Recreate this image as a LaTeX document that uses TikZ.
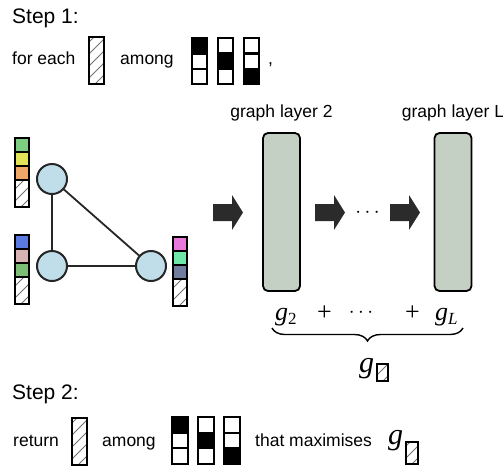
\documentclass[tikz,border=0pt]{standalone}
\usepackage{fontspec}
\setmainfont{Liberation Sans}
\newfontfamily\mathfont{Liberation Serif}
\usepackage{tikz}
\usetikzlibrary{decorations.pathreplacing}

\definecolor{nodeblue}{RGB}{192,222,234}
\definecolor{layergreen}{RGB}{197,208,196}
\definecolor{arrowgray}{RGB}{43,43,43}
\definecolor{fgreen}{RGB}{125,206,130}
\definecolor{fyellow}{RGB}{227,227,90}
\definecolor{forange}{RGB}{240,168,104}
\definecolor{fblue}{RGB}{91,123,224}
\definecolor{fpink}{RGB}{216,180,180}
\definecolor{fgreentwo}{RGB}{124,191,116}
\definecolor{fmagenta}{RGB}{232,121,219}
\definecolor{fmint}{RGB}{110,232,168}
\definecolor{fslate}{RGB}{110,126,156}

\tikzset{
  cell/.style={draw=black, line width=2.2pt},
  hatch/.style={draw=black!55, line width=1pt},
  gnode/.style={circle, draw=black!85, line width=2pt, fill=nodeblue, minimum size=30pt, inner sep=0pt},
  gedge/.style={line width=1.8pt, draw=black!85},
  layer/.style={draw=black, line width=1.8pt, fill=layergreen, rounded corners=5pt,
    minimum width=37pt, minimum height=158pt, inner sep=0pt},
  txt/.style={font=\fontsize{17.5}{20}\selectfont, inner sep=0pt},
  steptxt/.style={font=\fontsize{21}{24}\selectfont, inner sep=0pt},
  mth/.style={font=\mathfont\fontsize{26}{28}\selectfont, inner sep=0pt},
}

% hatched cell: top-left x, y, width, height
\newcommand{\hatchbox}[4]{%
  \begin{scope}
    \clip (#1,#2) rectangle ++(#3,#4);
    \fill[white] (#1,#2) rectangle ++(#3,#4);
    \foreach \k in {0,...,8}
      \draw[hatch] (#1,{#2+#4-\k*12+6}) -- ++(#3,-#3);
  \end{scope}
  \draw[cell] (#1,#2) rectangle ++(#3,#4);}

% one-hot column: top-left x, y, width, cell height, black cell
\newcommand{\onehot}[5]{%
  \foreach \c in {1,2,3}{
    \ifnum\c=#5 \def\cellfill{black}\else\def\cellfill{white}\fi
    \draw[cell, fill=\cellfill] (#1,{#2+(\c-1)*#4}) rectangle ++(#3,#4);
  }}

% node features: top-left x, y, colours
\newcommand{\featvec}[3]{%
  \foreach \col [count=\i from 0] in {#3}
    \draw[cell, fill=\col] (#1,{#2+\i*14}) rectangle ++(14,14);
  \hatchbox{#1}{#2+42}{14}{27}}

% block arrow starting at x
\newcommand{\blockarrow}[1]{%
  \fill[arrowgray] (#1,204) -- ++(19,0) -- ++(0,-9) -- ++(11,17.5) -- ++(-11,17.5)
    -- ++(0,-9) -- ++(-19,0) -- cycle;}

\begin{document}
\begin{tikzpicture}[x=1pt, y=-1pt]
  \useasboundingbox (0,0) rectangle (503,467);

  % Step 1
  \node[steptxt, anchor=base west] (stepone) at (12,23) {Step 1:};
  \node[txt, anchor=base west] (foreach) at (12,64) {for each};
  \hatchbox{89}{37}{15}{47}
  \node[txt, anchor=base west] (amongone) at (120,64) {among};
  \onehot{192}{38}{15}{15.4}{1}
  \onehot{218}{38}{15}{15.4}{2}
  \onehot{244}{38}{15}{15.4}{3}
  \node[txt, anchor=base west] (comma) at (268,64) {,};

  % Graph
  \node[gnode] (top) at (52,179) {};
  \node[gnode] (left) at (52,266) {};
  \node[gnode] (right) at (151,266) {};
  \draw[gedge] (top) -- (left);
  \draw[gedge] (left) -- (right);
  \draw[gedge] (top) -- (right);
  \featvec{15}{138}{fgreen,fyellow,forange}
  \featvec{15}{235}{fblue,fpink,fgreentwo}
  \featvec{173}{237}{fmagenta,fmint,fslate}

  % Layers
  \node[layer] (layertwo) at (281.5,212) {};
  \node[layer] (layerL) at (453,212) {};
  \node[txt, anchor=base] (labeltwo) at (281.5,117) {graph layer 2};
  \node[txt, anchor=base] (labelL) at (453,117) {graph layer L};
  \blockarrow{213}
  \blockarrow{315}
  \blockarrow{390}
  \node[inner sep=0pt, font=\fontsize{21}{21}\selectfont] (dots) at (367.5,213) {$\cdots$};

  % Readout sum
  \node[mth, anchor=base west] (gtwo) at (275,320)
    {\itshape g\raisebox{-4pt}{\upshape\fontsize{17}{17}\selectfont 2}};
  \node[mth, anchor=base west] (plusa) at (317,320) {+};
  \node[inner sep=0pt, font=\fontsize{20}{20}\selectfont] (sumdots) at (361,313) {$\cdots$};
  \node[mth, anchor=base west] (plusb) at (405,320) {+};
  \node[mth, anchor=base west] (gL) at (435,320)
    {\itshape g\raisebox{-4pt}{\fontsize{17}{17}\selectfont L}};
  \draw[line width=1.4pt, decorate, decoration={brace, mirror, amplitude=13pt}]
    (272,328) -- (463,328);
  \node[mth, anchor=base west, font=\mathfont\fontsize{30}{30}\selectfont\itshape] (gsum) at (359,372) {g};
  \hatchbox{377}{364}{11}{17}

  % Step 2
  \node[steptxt, anchor=base west] (steptwo) at (12,399) {Step 2:};
  \node[txt, anchor=base west] (return) at (13,446) {return};
  \hatchbox{72}{418}{15}{47}
  \node[txt, anchor=base west] (amongtwo) at (102,446) {among};
  \onehot{172}{417}{16}{15.6}{1}
  \onehot{198}{417}{16}{15.6}{2}
  \onehot{224}{417}{16}{15.6}{3}
  \node[txt, anchor=base west] (maxim) at (255,446) {that maximises};
  \node[mth, anchor=base west, font=\mathfont\fontsize{30}{30}\selectfont\itshape] (gmax) at (388,444) {g};
  \hatchbox{406}{442}{12}{22}
\end{tikzpicture}
\end{document}
